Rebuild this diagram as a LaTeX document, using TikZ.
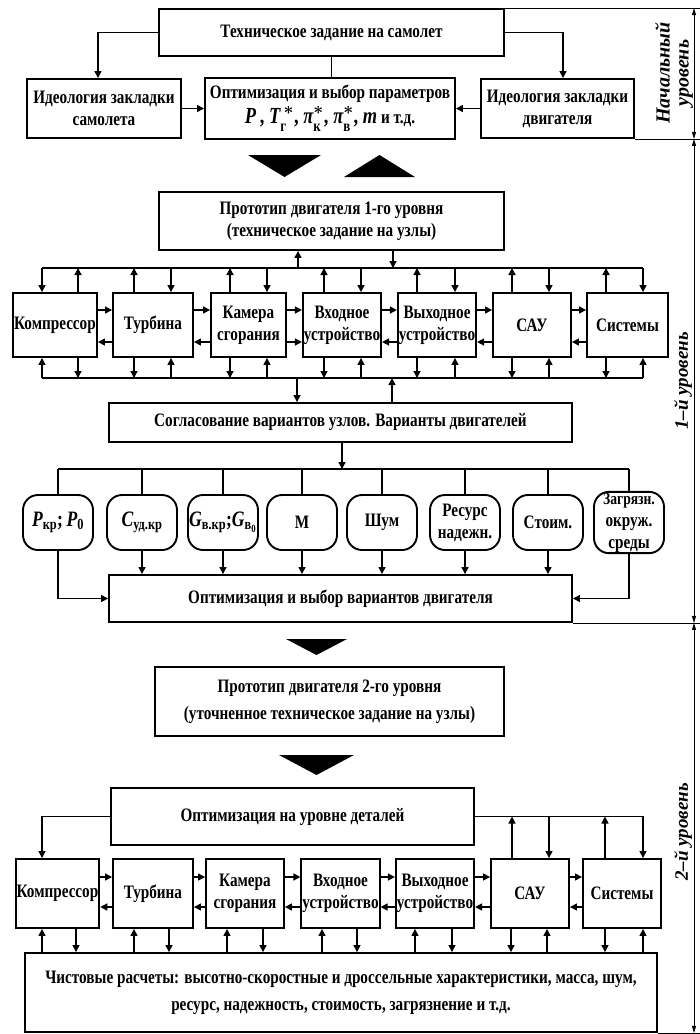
\documentclass[tikz,border=0pt]{standalone}
\usepackage{fontspec}
\usepackage{amsmath}
\setmainfont{Liberation Serif}[FakeStretch=0.8]
\newfontfamily\lvlfont{Liberation Serif}
\usetikzlibrary{arrows.meta}

\tikzset{
  blk/.style={draw, line width=1.9pt, align=center, inner sep=1pt},
  pill/.style={blk, rounded corners=15pt, minimum width=70pt, minimum height=55pt},
  lnk/.style={line width=1.4pt},
  arr/.style={lnk, -{Triangle[length=7pt,width=7pt]}},
  dimline/.style={line width=0.8pt, {Triangle[length=7pt,width=4pt]}-{Triangle[length=7pt,width=4pt]}},
  lvl/.style={rotate=90, align=center, font=\lvlfont\fontsize{19}{18}\selectfont\bfseries\itshape},
}

\begin{document}
\begin{tikzpicture}[x=1pt, y=-1pt, font=\fontsize{19}{22}\selectfont\bfseries]
\useasboundingbox (0,0) rectangle (700,1034);

% initial level
\node[blk, minimum width=345pt, minimum height=47pt] (tz) at (331.5,32.5) {Техническое задание на самолет};
\node[blk, minimum width=154pt, minimum height=59pt] (idl) at (104,108.5) {Идеология закладки\\самолета};
\node[blk, minimum width=250pt, minimum height=61pt] (opt) at (330,108.5)
  {Оптимизация и выбор параметров\\[3pt]{\fontsize{23}{25}\selectfont\boldmath
   $\textit{P}$\,, $\textit{T}^{\,*}_{\text{г}}$,$\,\textit{π}^{*}_{\text{к}}$,$\,\textit{π}^{*}_{\text{в}}$, $\textit{m}$\fontsize{19}{22}\selectfont\ и т.д.}};
\node[blk, minimum width=153pt, minimum height=59pt] (idr) at (557.5,108.5) {Идеология закладки\\двигателя};

\draw[arr] (tz.west) -| ([xshift=-6pt]idl.north);
\draw[arr] (tz.east) -| ([xshift=5.5pt]idr.north);
\draw[lnk] (tz.south) -- (tz.south |- opt.north);
\draw[arr] (idl.east) -- (opt.west);
\draw[arr] (idr.west) -- (opt.east);

\fill (248,155) -- (321,155) -- (284.5,177) -- cycle;
\fill (344,177) -- (415,177) -- (379.5,155) -- cycle;

% 1st level
\node[blk, minimum width=345pt, minimum height=58pt] (pr1) at (331.5,221) {Прототип двигателя 1-го уровня\\(техническое задание на узлы)};
\coordinate (busA) at (0,268);
\coordinate (busB) at (0,378);
\coordinate (upA) at (0,310);
\coordinate (loA) at (0,342);

\foreach \n/\cx/\w/\txt in {comp/55/84/Компрессор, turb/153/80/Турбина, kam/248.5/75/{Камера\\сгорания},
    vkh/342/76/{Входное\\устройство}, vykh/437/76/{Выходное\\устройство}, sau/532/78/САУ, sys/627.5/81/Системы}
  \node[blk, minimum width=\w pt, minimum height=64pt] (\n) at (\cx,325) {\txt};

\draw[lnk] (busA -| 42,0) -- (busA -| 643,0);
\draw[lnk] (busB -| 42,0) -- (busB -| 643,0);
\draw[arr] (busA -| 298,0) -- (pr1.south -| 298,0);
\draw[arr] (pr1.south -| 393,0) -- (busA -| 393,0);
\foreach \n/\d/\u in {comp/42/78, turb/171/134, kam/267/230, vkh/361/324, vykh/455/417, sau/549/512, sys/643/606}{
  \draw[arr] (busA -| \d,0) -- (\n.north -| \d,0);
  \draw[arr] (\n.north -| \u,0) -- (busA -| \u,0);
  \draw[arr] (busB -| \d,0) -- (\n.south -| \d,0);
  \draw[arr] (\n.south -| \u,0) -- (busB -| \u,0);}
\foreach \s/\t in {comp/turb, turb/kam, kam/vkh, vkh/vykh, vykh/sau, sau/sys}
  \draw[arr] (\s.east |- upA) -- (\t.west |- upA);
\foreach \s/\t in {turb.west/comp.east, kam.west/turb.east, kam.east/vkh.west, vykh.west/vkh.east,
    sau.west/vykh.east, sys.west/sau.east}
  \draw[arr] (\s |- loA) -- (\t |- loA);

\node[blk, minimum width=463pt, minimum height=39pt] (agr) at (340.5,422.5) {Согласование вариантов узлов. Варианты двигателей};
\draw[arr] (busB -| 297,0) -- (agr.north -| 297,0);
\draw[arr] (agr.north -| 392,0) -- (busB -| 392,0);

\coordinate (busC) at (0,469);
\foreach \i/\cx/\txt in {1/58/{\fontsize{22}{22}\selectfont$\textit{P}_{\text{кр}}$;$\,\textit{P}_{\text{0}}$},
    2/142/{\fontsize{22}{22}\selectfont$\textit{C}_{\text{уд.кр}}$},
    3/223/{\fontsize{22}{22}\selectfont$\textit{G}_{\text{в.кр}}$;$\textit{G}_{\text{в}_{\text{0}}}$}, 4/302/М, 5/382/Шум,
    6/465/{Ресурс\\надежн.}, 7/548/Стоим., 8/629/{\fontsize{17}{14}\selectfont Загрязн.\\окруж.\\среды}}
  \node[pill] (p\i) at (\cx,522.5) {\txt};

\node[blk, minimum width=463pt, minimum height=47pt] (opt2) at (340.5,598.5) {Оптимизация и выбор вариантов двигателя};
\draw[arr] (agr.south -| 342,0) -- (busC -| 342,0);
\draw[lnk] (p1 |- busC) -- (p8 |- busC);
\foreach \i in {1,...,8}
  \draw[lnk] (p\i |- busC) -- (p\i.north);
\foreach \i in {2,...,7}
  \draw[arr] (p\i.south) -- (p\i.south |- opt2.north);
\draw[arr] (p1.south) |- (opt2.west);
\draw[arr] (p8.south) |- (opt2.east);

\fill (286,639) -- (347,639) -- (316.5,655) -- cycle;

% 2nd level
\node[blk, minimum width=349pt, minimum height=69pt, font=\fontsize{19}{27}\selectfont\bfseries] (pr2) at (329.5,701.5)
  {Прототип двигателя 2-го уровня\\(уточненное техническое задание на узлы)};
\fill (279,755) -- (354,755) -- (316.5,775) -- cycle;

\node[blk, minimum width=363pt, minimum height=57pt] (opt3) at (292.5,816.5) {Оптимизация на уровне деталей};
\coordinate (upB) at (0,877);
\coordinate (loB) at (0,907);

\foreach \n/\cx/\w/\txt in {comp2/57.5/79/Компрессор, turb2/153/80/Турбина, kam2/245/78/{Камера\\сгорания},
    vkh2/340.5/77/{Входное\\устройство}, vykh2/435/78/{Выходное\\устройство}, sau2/530/78/САУ, sys2/622/78/Системы}
  \node[blk, minimum width=\w pt, minimum height=69pt] (\n) at (\cx,893.5) {\txt};

\foreach \s/\t in {comp2/turb2, turb2/kam2, kam2/vkh2, vkh2/vykh2, vykh2/sau2, sau2/sys2}{
  \draw[arr] (\s.east |- upB) -- (\t.west |- upB);
  \draw[arr] (\t.west |- loB) -- (\s.east |- loB);}

\draw[arr] (opt3.west) -| ([xshift=-15.5pt]comp2.north);
\draw[arr] (opt3.east) -| ([xshift=21pt]sys2.north);
\draw[arr] ([xshift=-18pt]sau2.north) -- ([xshift=-18pt]sau2.north |- opt3.east);
\draw[arr] ([xshift=19pt]sau2.north |- opt3.east) -- ([xshift=19pt]sau2.north);
\draw[arr] ([xshift=-17pt]sys2.north) -- ([xshift=-17pt]sys2.north |- opt3.east);

\node[blk, minimum width=632pt, minimum height=79pt, font=\fontsize{19}{27}\selectfont\bfseries] (calc) at (341,992.5)
  {Чистовые расчеты: высотно-скоростные и дроссельные характеристики, масса, шум,\\ресурс, надежность, стоимость, загрязнение и т.д.};
\foreach \n/\u/\d in {comp2/42/76, turb2/134/169, kam2/227/263, vkh2/322/357, vykh2/415/452, sau2/547/511, sys2/643/605}{
  \draw[arr] (calc.north -| \u,0) -- (\n.south -| \u,0);
  \draw[arr] (\n.south -| \d,0) -- (calc.north -| \d,0);}

% levels on the right
\coordinate (rim) at (700,0);
\coordinate (dimx) at (694,0);
\draw[line width=0.8pt] (tz.north east) -- (tz.north east -| rim);
\draw[line width=0.8pt] (idr.south east) -- (idr.south east -| rim);
\draw[line width=0.8pt] (opt2.south east) -- (opt2.south east -| rim);
\draw[line width=0.8pt] (calc.south east) -- (calc.south east -| rim);
\draw[dimline] (tz.north east -| dimx) -- (idr.south east -| dimx);
\draw[dimline] (idr.south east -| dimx) -- (opt2.south east -| dimx);
\draw[dimline] (opt2.south east -| dimx) -- (calc.south east -| dimx);
\node[lvl, font=\lvlfont\fontsize{20}{19}\selectfont\bfseries\itshape] (lv0) at (674,73) {Начальный\\уровень};
\node[lvl] (lv1) at (683,381) {1–й уровень};
\node[lvl] (lv2) at (683,832) {2–й уровень};
\end{tikzpicture}
\end{document}
